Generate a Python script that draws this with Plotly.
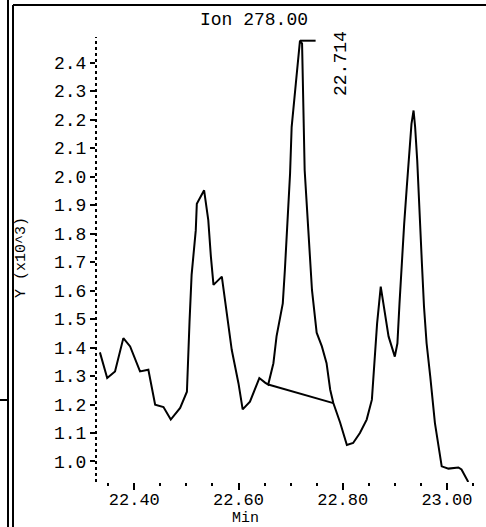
import plotly.graph_objects as go

# retention time (min) and abundance (x10^3)
rt = [22.334, 22.348, 22.363, 22.379, 22.392, 22.401, 22.411, 22.427, 22.440, 22.456,
      22.470, 22.488, 22.501, 22.506, 22.510, 22.518, 22.520, 22.534, 22.542, 22.547,
      22.552, 22.568, 22.577, 22.587, 22.600, 22.608, 22.622, 22.628, 22.640, 22.651,
      22.657, 22.667, 22.673, 22.685, 22.689, 22.699, 22.702, 22.710, 22.715, 22.718,
      22.722, 22.727, 22.734, 22.741, 22.750, 22.760, 22.769, 22.776, 22.782, 22.795,
      22.808, 22.820, 22.833, 22.846, 22.856, 22.862, 22.866, 22.873, 22.878, 22.888,
      22.900, 22.905, 22.909, 22.913, 22.918, 22.923, 22.928, 22.932, 22.936, 22.939,
      22.943, 22.947, 22.952, 22.956, 22.961, 22.968, 22.977, 22.990, 23.003, 23.022,
      23.028, 23.041]
abund = [1.383, 1.293, 1.316, 1.433, 1.404, 1.364, 1.316, 1.322, 1.199, 1.191,
         1.147, 1.188, 1.245, 1.491, 1.655, 1.812, 1.905, 1.952, 1.847, 1.719,
         1.620, 1.649, 1.520, 1.392, 1.274, 1.183, 1.210, 1.240, 1.293, 1.277,
         1.270, 1.345, 1.439, 1.555, 1.672, 2.012, 2.174, 2.326, 2.407, 2.477,
         2.467, 2.022, 1.812, 1.602, 1.452, 1.404, 1.345, 1.252, 1.205, 1.137,
         1.058, 1.065, 1.100, 1.147, 1.217, 1.392, 1.485, 1.614, 1.555, 1.439,
         1.368, 1.415, 1.555, 1.695, 1.835, 1.964, 2.104, 2.185, 2.232, 2.174,
         2.057, 1.917, 1.695, 1.544, 1.415, 1.299, 1.135, 0.983, 0.975, 0.979,
         0.972, 0.928]

# integration baseline under the 22.714 peak
base_rt = [22.657, 22.782]
base_ab = [1.270, 1.205]

peak_rt = 22.718
peak_ab = 2.477
peak_label = "22.714"

W, H = 486, 527
L, R, T, B = 96, 6, 37, 45
XR = [22.3265, 23.0635]
YR = [0.928, 2.49]
FONT = "Liberation Mono"


def px(x):
    return (x - L) / (W - L - R)


def py(y):
    return (H - B - y) / (H - T - B)


def label(text, x, y, size=18, angle=0):
    return dict(text=text, xref="paper", yref="paper", x=px(x), y=py(y),
                xanchor="center", yanchor="middle", textangle=angle,
                showarrow=False, font=dict(family=FONT, size=size, color="black"))


fig = go.Figure()
fig.add_trace(go.Scatter(x=rt, y=abund, mode="lines",
                         line=dict(color="black", width=2), showlegend=False))
fig.add_trace(go.Scatter(x=base_rt, y=base_ab, mode="lines",
                         line=dict(color="black", width=2), showlegend=False))
fig.add_trace(go.Scatter(x=[peak_rt, peak_rt + 0.03], y=[peak_ab, peak_ab], mode="lines",
                         line=dict(color="black", width=2), showlegend=False))

shapes = [
    # dotted y axis
    dict(type="line", xref="paper", yref="paper", x0=0, x1=0, y0=0, y1=1,
         line=dict(color="black", width=2, dash="dot")),
    # frame bits from the page
    dict(type="line", xref="paper", yref="paper", x0=px(13), x1=px(486), y0=py(5), y1=py(5),
         line=dict(color="black", width=2)),
    dict(type="line", xref="paper", yref="paper", x0=px(8), x1=px(8), y0=py(0), y1=py(527),
         line=dict(color="black", width=2)),
    dict(type="line", xref="paper", yref="paper", x0=px(13), x1=px(13), y0=py(5), y1=py(527),
         line=dict(color="black", width=2)),
    dict(type="line", xref="paper", yref="paper", x0=px(0), x1=px(8), y0=py(400), y1=py(400),
         line=dict(color="black", width=2)),
]

annotations = [
    label("Ion 278.00", 254, 20),
    label(peak_label, 341, 64, angle=-90),
    label("Y (x10^3)", 21, 258, size=15, angle=-90),
    label("Min", 245, 518, size=15),
]

fig.update_layout(
    width=W, height=H,
    margin=dict(l=L, r=R, t=T, b=B, pad=0),
    paper_bgcolor="white", plot_bgcolor="white",
    font=dict(family=FONT, size=18, color="black"),
    shapes=shapes, annotations=annotations,
)
fig.update_xaxes(range=XR, showgrid=False, zeroline=False, showline=False,
                 tickvals=[22.4, 22.6, 22.8, 23.0], tickformat=".2f",
                 tickfont=dict(size=17),
                 ticks="outside", ticklen=7, tickwidth=2, tickcolor="black",
                 ticklabelstandoff=-5,
                 minor=dict(dtick=0.05, tick0=22.4, ticks="outside", ticklen=3,
                            tickwidth=2, tickcolor="black"))
fig.update_yaxes(range=YR, showgrid=False, zeroline=False, showline=False,
                 dtick=0.1, tick0=1.0, tickformat=".1f",
                 ticks="outside", ticklen=5, tickwidth=2, tickcolor="black")

# page has a default 8px body margin; drop it so the figure sits at 0,0
fig.write_html("out.html", config={"displayModeBar": False},
               post_script="document.body.style.margin='0';")
